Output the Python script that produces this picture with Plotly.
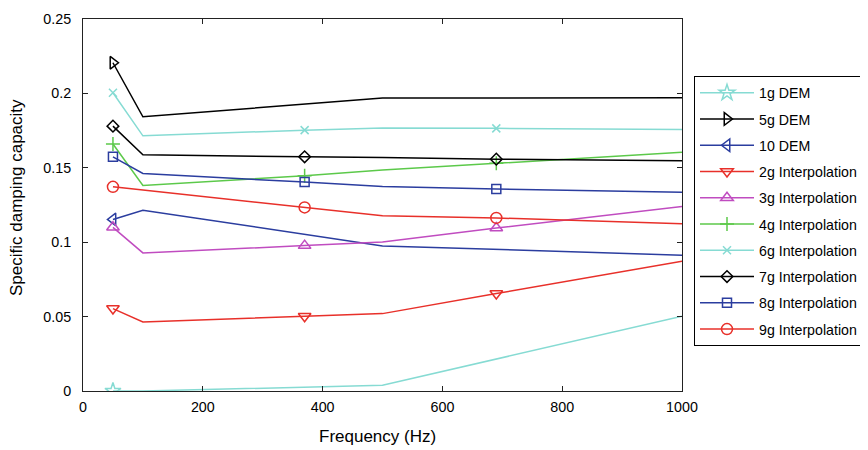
import plotly.graph_objects as go

# ---- data ----
dem_freq = [50, 100, 500, 1000]
interp_freq = [50, 100, 370, 500, 690, 1000]
dem_marker_idx = [0]
interp_marker_idx = [0, 2, 4]

dem_1g = [0.0, 0.0, 0.0038, 0.0503]
dem_5g = [0.2206, 0.1843, 0.1969, 0.1970]
dem_10 = [0.1153, 0.1215, 0.0975, 0.0913]

interp_2g = [0.0554, 0.0464, 0.0502, 0.0520, 0.0655, 0.0872]
interp_3g = [0.1100, 0.0928, 0.0977, 0.1002, 0.1095, 0.1240]
interp_4g = [0.1660, 0.1381, 0.1447, 0.1485, 0.1530, 0.1605]
interp_6g = [0.2004, 0.1715, 0.1753, 0.1768, 0.1765, 0.1758]
interp_7g = [0.1780, 0.1587, 0.1574, 0.1570, 0.1558, 0.1548]
interp_8g = [0.1574, 0.1462, 0.1404, 0.1375, 0.1357, 0.1336]
interp_9g = [0.1372, 0.1350, 0.1234, 0.1177, 0.1163, 0.1124]

x_ticks = [0, 200, 400, 600, 800, 1000]
y_ticks = [0, 0.05, 0.10, 0.15, 0.20, 0.25]
y_tick_labels = ["0", "0.05", "0.1", "0.15", "0.2", "0.25"]

CYAN = "#86dbd3"
BLACK = "#000000"
BLUE = "#2b3d9f"
RED = "#e8302a"
MAGENTA = "#c04cc0"
GREEN = "#5cc94a"

series = [
    ("1g DEM", dem_freq, dem_1g, dem_marker_idx, CYAN, "star-open", 12),
    ("5g DEM", dem_freq, dem_5g, dem_marker_idx, BLACK, "triangle-right-open", 11),
    ("10 DEM", dem_freq, dem_10, dem_marker_idx, BLUE, "triangle-left-open", 11),
    ("2g Interpolation", interp_freq, interp_2g, interp_marker_idx, RED, "triangle-down-open", 11),
    ("3g Interpolation", interp_freq, interp_3g, interp_marker_idx, MAGENTA, "triangle-up-open", 11),
    ("4g Interpolation", interp_freq, interp_4g, interp_marker_idx, GREEN, "cross-thin-open", 10),
    ("6g Interpolation", interp_freq, interp_6g, interp_marker_idx, CYAN, "x-thin-open", 8),
    ("7g Interpolation", interp_freq, interp_7g, interp_marker_idx, BLACK, "diamond-open", 9),
    ("8g Interpolation", interp_freq, interp_8g, interp_marker_idx, BLUE, "square-open", 9),
    ("9g Interpolation", interp_freq, interp_9g, interp_marker_idx, RED, "circle-open", 11),
]

FONT = "Arial, Liberation Sans, sans-serif"
fig = go.Figure()

for name, xs, ys, idx, color, symbol, size in series:
    fig.add_trace(go.Scatter(
        x=xs, y=ys, mode="lines", legendgroup=name, showlegend=False,
        line=dict(color=color, width=1.5), hoverinfo="skip"))
    fig.add_trace(go.Scatter(
        x=[xs[i] for i in idx], y=[ys[i] for i in idx], mode="markers",
        legendgroup=name, showlegend=False,
        marker=dict(symbol=symbol, size=size, color=color,
                    line=dict(color=color, width=1.5))))
    fig.add_trace(go.Scatter(
        x=[None], y=[None], mode="lines+markers", name=name, legendgroup=name,
        line=dict(color=color, width=1.5),
        marker=dict(symbol=symbol, size=size, color=color,
                    line=dict(color=color, width=1.5))))

axis_common = dict(
    showline=True, linecolor="#222222", linewidth=1, mirror="ticks",
    ticks="inside", ticklen=5, tickcolor="#222222", tickwidth=1,
    showgrid=False, zeroline=False, automargin=False,
    tickfont=dict(family=FONT, size=14.3, color="black"),
)

# page has an 8px body margin: figure coords = page coords - OFF
OFF = 8
W, H = 860, 442
L, T = 83 - OFF, 19 - OFF
R = W - (682 - OFF)
B = H - (391 - OFF)
PW, PH = W - L - R, H - T - B


def px_x(page_x):
    return (page_x - OFF - L) / PW


def px_y(page_y):
    return (H - B - (page_y - OFF)) / PH


fig.update_layout(
    width=W, height=H,
    margin=dict(l=L, r=R, t=T, b=B, pad=0, autoexpand=False),
    paper_bgcolor="white", plot_bgcolor="white",
    font=dict(family=FONT, color="black"),
    xaxis=dict(range=[0, 1000], tickvals=x_ticks, ticklabelstandoff=3, **axis_common),
    yaxis=dict(range=[0, 0.25], tickvals=y_ticks, ticktext=y_tick_labels,
               ticklabelstandoff=8, **axis_common),
    legend=dict(x=px_x(694), xanchor="left", y=px_y(76), yanchor="top",
                bgcolor="white", bordercolor="black", borderwidth=1,
                font=dict(family=FONT, size=14.2, color="black"),
                traceorder="grouped", tracegroupgap=4.8, itemwidth=54),
    showlegend=True,
    annotations=[
        dict(text="Frequency (Hz)", xref="paper", yref="paper",
             x=px_x(377), y=px_y(437), xanchor="center", yanchor="middle",
             showarrow=False, font=dict(family=FONT, size=17, color="black")),
        dict(text="Specific damping capacity", xref="paper", yref="paper",
             x=px_x(16), y=px_y(198), xanchor="center", yanchor="middle",
             textangle=-90, showarrow=False, font=dict(family=FONT, size=17, color="black")),
    ],
)

fig.write_html("out.html")
